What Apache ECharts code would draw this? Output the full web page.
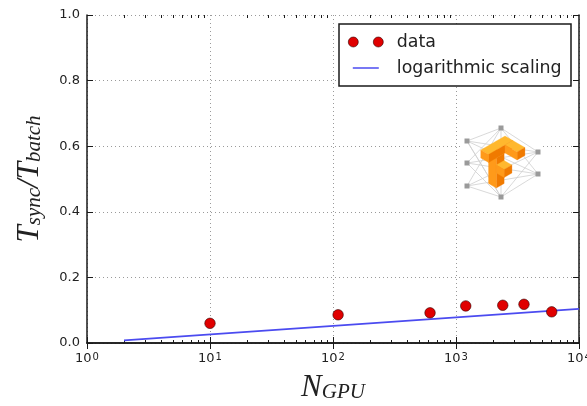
<!DOCTYPE html>
<html>
<head>
<meta charset="utf-8">
<script src="https://cdn.jsdelivr.net/npm/echarts@6/dist/echarts.min.js"></script>
<style>html,body{margin:0;padding:0;background:#fff}#c{width:587px;height:406px}</style>
</head>
<body>
<div id="c"></div>
<script>
// ---- data ----
const N_GPU = [10, 110, 615, 1200, 2400, 3570, 6000];
const T_RATIO = [0.060, 0.086, 0.092, 0.113, 0.115, 0.118, 0.095];
const FIT_X = [2, 10000];
const FIT_Y = [0.008, 0.104];
const Y_TICKS = ['0.0', '0.2', '0.4', '0.6', '0.8', '1.0'];
const X_MINOR = [2,3,4,5,6,7,8,9,20,30,40,50,60,70,80,90,200,300,400,500,600,700,800,900,2000,3000,4000,5000,6000,7000,8000,9000];
const SERIES_NAMES = ['data', 'logarithmic scaling'];

const AX = '#1a1a1a';
const TXT = '#222';
const FONT = 'DejaVu Sans';
const MATH = 'Liberation Serif';

const chart = echarts.init(document.getElementById('c'), null, {renderer: 'canvas'});

// tensorflow-like logo drawn with graphic primitives
function logo() {
  const els = [];
  els.push({type: 'rect', shape: {x: 461, y: 122, width: 80, height: 80}, style: {fill: '#fff'}, z: 1, silent: true});
  const nodes = [[501,128],[467,141],[538,152],[467,163],[538,174],[467,186],[501,197]];
  const edges = [[0,1],[0,2],[0,3],[0,4],[0,5],[6,1],[6,2],[6,3],[6,4],[6,5],[1,2],[1,4],[3,2],[3,4],[5,2],[5,4],[0,6],[1,6]];
  edges.forEach(e => els.push({type: 'line', shape: {x1: nodes[e[0]][0], y1: nodes[e[0]][1], x2: nodes[e[1]][0], y2: nodes[e[1]][1]}, style: {stroke: '#cfcfcf', lineWidth: 0.8}, z: 2, silent: true}));
  nodes.forEach(n => els.push({type: 'rect', shape: {x: n[0]-2.5, y: n[1]-2.5, width: 5, height: 5}, style: {fill: '#9a9a9a'}, z: 3, silent: true}));
  const OX = 505, OY = 136;
  const P = (a, b, c) => [OX + (a - b) * 0.866, OY + (a + b) * 0.5 - c];
  function box(a0, a1, b0, b1, c0, c1) {
    const faces = [
      [[P(a0,b0,c1),P(a1,b0,c1),P(a1,b1,c1),P(a0,b1,c1)], '#ffb82e'],
      [[P(a1,b0,c1),P(a1,b1,c1),P(a1,b1,c0),P(a1,b0,c0)], '#f07a00'],
      [[P(a0,b1,c1),P(a1,b1,c1),P(a1,b1,c0),P(a0,b1,c0)], '#ff9a1a']
    ];
    faces.forEach(f => els.push({type: 'polygon', shape: {points: f[0]}, style: {fill: f[1], stroke: f[1], lineWidth: 0.3}, z: 4, silent: true}));
  }
  box(0, 9, 10, 19, -38, -8);   // stem
  box(9, 18, 10, 19, -23, -15); // middle arm
  box(0, 9, 0, 28, -8, 0);      // top beam
  box(9, 23, 0, 9, -8, 0);      // top arm
  return els;
}

const DOTS = 'path://M0,5a5,5 0 1,0 10,0a5,5 0 1,0 -10,0zM25,5a5,5 0 1,0 10,0a5,5 0 1,0 -10,0z';
const LINEICON = 'path://M0,0M26,10M0,4.25h26v1.5h-26z';

const minorTick = (pos) => ({
  type: 'log', logBase: 10, min: 1, max: 10000, position: pos, gridIndex: 0,
  axisLine: {show: false}, axisLabel: {show: false}, splitLine: {show: false},
  axisTick: {show: true, inside: true, length: 3, lineStyle: {color: AX, width: 1}, customValues: X_MINOR}
});

const mathRich = {
  t: {fontFamily: MATH, fontStyle: 'italic', fontSize: 31, lineHeight: 38, color: TXT, verticalAlign: 'top'},
  s: {fontFamily: MATH, fontStyle: 'italic', fontSize: 21, lineHeight: 21, padding: [10, 0, 0, 0], color: TXT, verticalAlign: 'top'}
};

chart.setOption({
  animation: false,
  backgroundColor: '#fff',
  grid: {left: 87, right: 8, top: 15, bottom: 63, containLabel: false, outerBoundsMode: 'none'},
  legend: {
    orient: 'vertical', left: 348, top: 33, padding: 0, itemWidth: 52, itemHeight: 10, itemGap: 8,
    symbolKeepAspect: true, selectedMode: false, z: 6,
    textStyle: {fontFamily: FONT, fontSize: 17.4, color: TXT, lineHeight: 18},
    data: [
      {name: SERIES_NAMES[0], icon: DOTS, itemStyle: {color: '#e00000', borderColor: '#300', borderWidth: 0.6}},
      {name: SERIES_NAMES[1], icon: LINEICON, itemStyle: {color: '#4b4bf0', borderWidth: 0}}
    ]
  },
  graphic: [
    {type: 'rect', shape: {x: 339, y: 24, width: 232, height: 62}, style: {fill: '#fff', stroke: AX, lineWidth: 1.5}, z: 5, silent: true}
  ].concat(logo()),
  xAxis: [
    {
      type: 'log', logBase: 10, min: 1, max: 10000, position: 'bottom',
      name: '{t|N}{s|GPU}', nameLocation: 'middle', nameGap: 29,
      nameTextStyle: {rich: mathRich},
      axisLine: {show: true, onZero: false, lineStyle: {color: AX, width: 1.5}},
      axisTick: {show: true, inside: true, length: 6, lineStyle: {color: AX, width: 1}},
      axisLabel: {
        show: true, margin: 9, showMinLabel: true, showMaxLabel: true,
        formatter: v => '{b|10}{s|' + Math.round(Math.log10(v)) + '}',
        rich: {
          b: {fontFamily: FONT, fontSize: 13, lineHeight: 18, color: TXT, verticalAlign: 'top'},
          s: {fontFamily: FONT, fontSize: 10, lineHeight: 10, color: TXT, verticalAlign: 'top', padding: [0, 0, 0, 1]}
        }
      },
      splitLine: {show: true, lineStyle: {color: '#9a9a9a', type: [1, 3], width: 1}}
    },
    {
      type: 'log', logBase: 10, min: 1, max: 10000, position: 'top',
      axisLine: {show: true, lineStyle: {color: AX, width: 1.5}},
      axisTick: {show: true, inside: true, length: 6, lineStyle: {color: AX, width: 1}},
      axisLabel: {show: false}, splitLine: {show: false}
    },
    minorTick('bottom'),
    minorTick('top')
  ],
  yAxis: [
    {
      type: 'value', min: 0, max: 1, interval: 0.2, position: 'left',
      name: '{t|T}{s|sync}{t|/T}{s|batch}', nameLocation: 'middle', nameRotate: 90, nameGap: 35,
      nameTextStyle: {rich: mathRich},
      axisLine: {show: true, onZero: false, lineStyle: {color: AX, width: 1.5}},
      axisTick: {show: true, inside: true, length: 6, lineStyle: {color: AX, width: 1}},
      axisLabel: {show: true, margin: 7, fontFamily: FONT, fontSize: 13, color: TXT,
        formatter: v => Y_TICKS[Math.round(v / 0.2)]},
      splitLine: {show: true, lineStyle: {color: '#9a9a9a', type: [1, 3], width: 1}}
    },
    {
      type: 'value', min: 0, max: 1, interval: 0.2, position: 'right',
      axisLine: {show: true, onZero: false, lineStyle: {color: AX, width: 1.5}},
      axisTick: {show: true, inside: true, length: 6, lineStyle: {color: AX, width: 1}},
      axisLabel: {show: false}, splitLine: {show: false}
    }
  ],
  series: [
    {
      name: SERIES_NAMES[0], type: 'scatter', xAxisIndex: 0, yAxisIndex: 0, symbol: 'circle', symbolSize: 10.5, z: 3,
      itemStyle: {color: '#e00000', borderColor: '#300', borderWidth: 0.6, opacity: 1},
      data: N_GPU.map((x, i) => [x, T_RATIO[i]])
    },
    {
      name: SERIES_NAMES[1], type: 'line', xAxisIndex: 0, yAxisIndex: 0, symbol: 'none', z: 2,
      lineStyle: {color: '#4b4bf0', width: 1.6},
      itemStyle: {color: '#4b4bf0'},
      data: FIT_X.map((x, i) => [x, FIT_Y[i]])
    }
  ]
});
</script>
</body>
</html>
